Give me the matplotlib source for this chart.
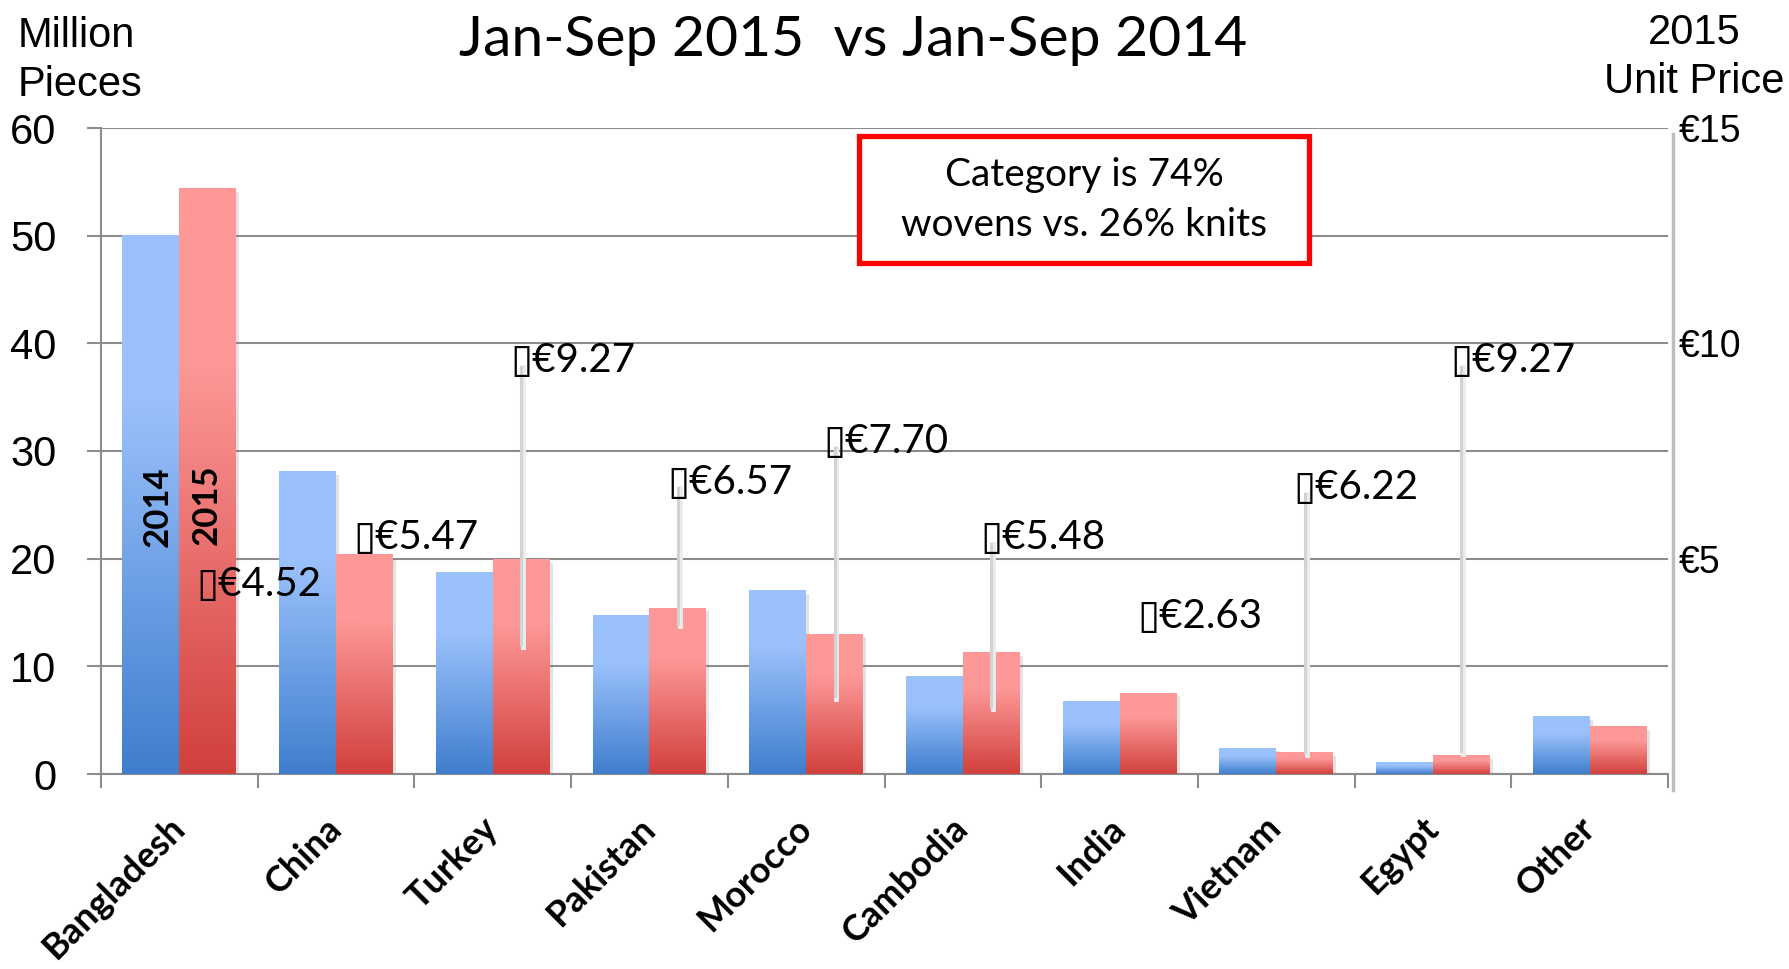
import numpy as np
import matplotlib.pyplot as plt
from matplotlib.colors import LinearSegmentedColormap
from matplotlib.patches import Rectangle
from matplotlib.lines import Line2D

countries = ['Bangladesh', 'China', 'Turkey', 'Pakistan', 'Morocco',
             'Cambodia', 'India', 'Vietnam', 'Egypt', 'Other']
pieces_2014 = [50.0, 28.1, 18.7, 14.7, 17.0, 9.1, 6.7, 2.4, 1.1, 5.3]
pieces_2015 = [54.4, 20.4, 19.9, 15.4, 13.0, 11.3, 7.5, 2.0, 1.7, 4.4]
unit_price_2015 = [4.52, 5.47, 9.27, 6.57, 7.70, 5.48, 2.63, 6.22, 9.27, None]

# where excel left the price labels (price axis units), and where the
# grey leader lines end (million pieces axis)
label_y = [4.39, 5.49, 9.59, 6.78, 7.73, 5.50, 3.65, 6.66, 9.59, None]
leader_bottom = [None, None, 12.0, 13.9, 7.2, 6.2, None, 2.0, 2.1, None]

W, H = 1790, 969
fig = plt.figure(figsize=(W / 100, H / 100), dpi=100)
ax = fig.add_axes([101 / W, 195 / H, 1567 / W, 646 / H])

x = np.arange(len(countries))
bw = 0.363
grid_c = '#8c8c8c'

blue_cm = LinearSegmentedColormap.from_list(
    'blue', [(0, '#3f7ecd'), (0.7, '#9bc1fc'), (1, '#9bc1fc')])
red_cm = LinearSegmentedColormap.from_list(
    'red', [(0, '#d1403c'), (0.7, '#fd9897'), (1, '#fd9897')])
grad = np.linspace(0, 1, 256).reshape(-1, 1)


def gradient_bars(xs, heights, cmap):
    for xc, h in zip(xs, heights):
        # soft shadow on the right
        ax.add_patch(Rectangle((xc - bw / 2 + 0.02, 0), bw, h - 0.3,
                               color='#808080', alpha=0.22, lw=0, zorder=2))
        ax.imshow(grad, extent=(xc - bw / 2, xc + bw / 2, 0, h), origin='lower',
                  cmap=cmap, aspect='auto', interpolation='bilinear', zorder=3)


gradient_bars(x - bw / 2, pieces_2014, blue_cm)
gradient_bars(x + bw / 2, pieces_2015, red_cm)

ax.set_xlim(-0.5, len(countries) - 0.5)
ax.set_ylim(0, 60)
ax.set_yticks(range(0, 61, 10))
ax.set_axisbelow(True)
ax.yaxis.grid(True, color=grid_c, lw=1.5)
for s in ['top', 'right']:
    ax.spines[s].set_visible(False)
for s in ['left', 'bottom']:
    ax.spines[s].set_color(grid_c)
    ax.spines[s].set_linewidth(1.5)
ax.tick_params(axis='y', length=10, width=1.5, color=grid_c, pad=22, labelsize=30)
for t in ax.get_yticklabels():
    t.set_family('Liberation Sans')
ax.set_xticks([])
ax.set_xticks(np.arange(-0.5, len(countries)), minor=True)
ax.tick_params(axis='x', which='minor', length=10, width=1.5, color=grid_c)

for xi, name in zip(x, countries):
    ax.text(xi, -0.076, name, transform=ax.get_xaxis_transform(), rotation=45,
            rotation_mode='anchor', ha='right', va='center', fontsize=26,
            fontweight='bold', family='Lato')

ax.text(-0.136, 24.8, '2014', rotation=90, ha='center', va='center',
        fontsize=25, fontweight='bold', family='Lato', zorder=5)
ax.text(0.176, 25.0, '2015', rotation=90, ha='center', va='center',
        fontsize=25, fontweight='bold', family='Lato', zorder=5)

# secondary axis: unit price
ax2 = ax.twinx()
ax2.set_ylim(0, 15)
ratio = 60 / 15
ax2.set_yticks([5, 10, 15])
ax2.set_yticklabels(['€5', '€10', '€15'])
ax2.tick_params(length=0, pad=8, labelsize=27)
for t in ax2.get_yticklabels():
    t.set_family('Liberation Sans')
for s in ax2.spines.values():
    s.set_visible(False)

ax.add_line(Line2D([1 + 5 / 1567] * 2, [-16 / 646, 1 - 6 / 646], transform=ax.transAxes,
                   color='#bdbdbd', lw=2.5, clip_on=False))

for xi, p, ly, lb in zip(x, unit_price_2015, label_y, leader_bottom):
    if p is None:
        continue
    xr = xi + bw / 2
    if lb is not None:
        ax2.plot([xr + 0.012, xr + 0.012], [ly - 0.15, lb / ratio - 0.05], color='#ececec', lw=3.5, zorder=2)
        ax2.plot([xr, xr], [ly - 0.15, lb / ratio], color='#d2d2d2', lw=2.2, zorder=3)
    ax2.text(xr - 0.07, ly, '\u25af€%.2f' % p, ha='left', va='center', fontsize=29,
             family=['Lato', 'DejaVu Sans'], zorder=4)

# headers
fig.text(853 / W, 1 - 40 / H, 'Jan-Sep 2015  vs Jan-Sep 2014', ha='center', va='center',
         fontsize=41, family='Lato')
fig.text(18 / W, 1 - 47 / H, 'Million', ha='left', va='baseline', fontsize=30,
         family='Liberation Sans')
fig.text(18 / W, 1 - 96 / H, 'Pieces', ha='left', va='baseline', fontsize=30,
         family='Liberation Sans')
fig.text(1694 / W, 1 - 44 / H, '2015', ha='center', va='baseline', fontsize=30,
         family='Liberation Sans')
fig.text(1694 / W, 1 - 93 / H, 'Unit Price', ha='center', va='baseline', fontsize=30,
         family='Liberation Sans')

# note box
fig.add_artist(Rectangle((859 / W, 1 - 263 / H), 450 / W, 127 / H, transform=fig.transFigure,
                         fc='white', ec='#ff0000', lw=3.8, zorder=2))
fig.text(1084 / W, 1 - 175 / H, 'Category is 74%', ha='center', va='center',
         fontsize=28, family='Lato', zorder=3)
fig.text(1084 / W, 1 - 225 / H, 'wovens vs. 26% knits', ha='center', va='center',
         fontsize=28, family='Lato', zorder=3)

fig.savefig('out.png', dpi=100, facecolor='white')
